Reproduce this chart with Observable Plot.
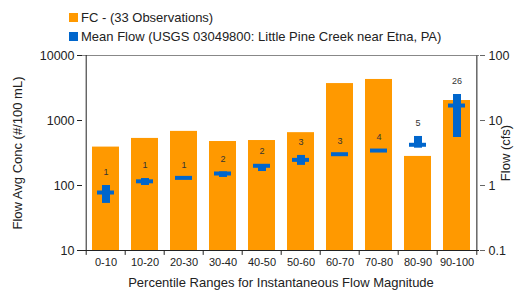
<!DOCTYPE html>
<html><head><meta charset="utf-8">
<script src="https://cdn.jsdelivr.net/npm/d3@7"></script>
<script src="https://cdn.jsdelivr.net/npm/@observablehq/plot@0.6"></script>
<style>
body{margin:0;background:#fff;font-family:"Liberation Sans",Arial,sans-serif;}
#wrap{position:relative;width:514px;height:291px;}
.leg{position:absolute;left:69px;font-size:13px;color:#222;display:flex;align-items:center;white-space:nowrap;}
.sw{width:9px;height:9px;margin-right:3px;display:inline-block;}
</style></head><body>
<div id="wrap">
<div class="leg" style="top:10px"><span class="sw" style="background:#FF9900"></span>FC - (33 Observations)</div>
<div class="leg" style="top:29px"><span class="sw" style="background:#0066CC"></span>Mean Flow (USGS 03049800: Little Pine Creek near Etna, PA)</div>
</div>
<script>
const categories = ["0-10","10-20","20-30","30-40","40-50","50-60","60-70","70-80","80-90","90-100"];
const fcConc = [390, 530, 680, 475, 492, 650, 3700, 4280, 280, 2030];
const meanFlow = [0.78, 1.16, 1.31, 1.53, 2.01, 2.48, 3.03, 3.45, 4.23, 17.0];
const flowLo = [0.53, 1.0, 1.31, 1.33, 1.64, 2.04, 3.03, 3.45, 3.75, 5.47];
const flowHi = [1.0, 1.28, 1.31, 1.62, 2.1, 2.9, 3.03, 3.45, 5.68, 25.1];
const counts = [1, 1, 1, 2, 2, 3, 3, 4, 5, 26];
const leftTicks = [10, 100, 1000, 10000];

const SCALE = 100; // flow (cfs) x 100 maps onto the concentration axis
const rows = categories.map((c, i) => ({
  cat: c, fc: fcConc[i], mean: meanFlow[i] * SCALE,
  lo: flowLo[i] * SCALE, hi: flowHi[i] * SCALE, n: counts[i]
}));
const step = 396 / categories.length;
const orange = "#FF9900", blue = "#0066CC";

const chart = Plot.plot({
  width: 514, height: 291,
  marginLeft: 82, marginRight: 35, marginTop: 55, marginBottom: 41,
  style: {fontFamily: "Liberation Sans, Arial, sans-serif", color: "#222", background: "transparent"},
  x: {domain: categories, paddingInner: 0.32, paddingOuter: 0.16, label: null},
  y: {type: "log", domain: [10, 10000], label: null},
  marks: [
    Plot.barY(rows, {x: "cat", y1: 10, y2: "fc", fill: orange}),
    Plot.ruleX(rows, {x: "cat", y1: "lo", y2: "hi", stroke: blue, strokeWidth: 8}),
    Plot.tickY(rows, {x: "cat", y: "mean", stroke: blue, strokeWidth: 4, inset: 5}),
    Plot.text(rows, {x: "cat", y: "hi", text: "n", dy: -13, fontSize: 9, fill: "#333"}),
    Plot.ruleY([10000], {stroke: "#888", strokeWidth: 1}),
    Plot.ruleY([10], {stroke: "#222", strokeWidth: 1}),
    Plot.axisY({anchor: "left", ticks: leftTicks, tickFormat: d => String(d), tickSize: 5, tickPadding: 3, fontSize: 12.5, label: null}),
    Plot.axisY({anchor: "right", ticks: leftTicks, tickFormat: d => String(d / SCALE), tickSize: 5, tickPadding: 4, fontSize: 12.5, label: null, stroke: "#666"}),
    Plot.ruleX([categories[0]], {y1: 10, y2: 10000, dx: -step / 2, stroke: "#222"}),
    Plot.ruleX([categories[categories.length - 1]], {y1: 10, y2: 10000, dx: step / 2, stroke: "#666", strokeWidth: 1.5}),
    Plot.ruleX(categories, {x: d => d, y1: 10, y2: 8.4, dx: -step / 2, stroke: "#222"}),
    Plot.ruleX([categories[categories.length - 1]], {y1: 10, y2: 8.4, dx: step / 2, stroke: "#222"}),
    Plot.axisX({tickSize: 0, tickPadding: 8, fontSize: 11, label: null}),
    Plot.text(["Flow Avg Conc (#/100 mL)"], {frameAnchor: "left", textAnchor: "middle", dx: -65, rotate: -90, fontSize: 13, fill: "#222"}),
    Plot.text(["Flow (cfs)"], {frameAnchor: "right", textAnchor: "middle", dx: 26, rotate: -90, fontSize: 13, fill: "#222"}),
    Plot.text(["Percentile Ranges for Instantaneous Flow Magnitude"], {frameAnchor: "bottom", dy: 36, fontSize: 13, fill: "#222"})
  ]
});
document.getElementById("wrap").prepend(chart);
chart.style.position = "absolute";
chart.style.left = "0";
chart.style.top = "0";
</script>
</body></html>
